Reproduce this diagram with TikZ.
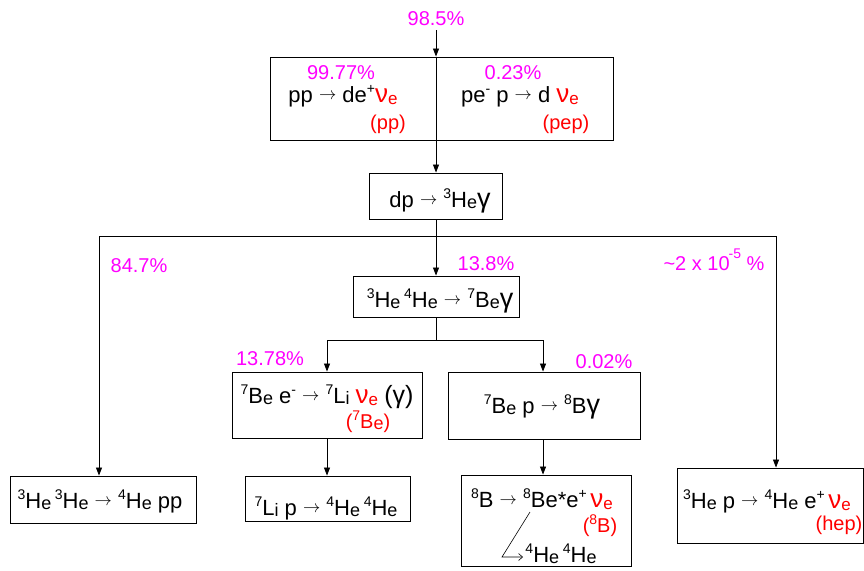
\documentclass[tikz,border=0pt]{standalone}
\usepackage{fontspec}
\setmainfont{Liberation Sans}
\usetikzlibrary{arrows.meta}
\definecolor{pct}{RGB}{255,0,255}
\definecolor{nured}{RGB}{255,0,0}
\newcommand\up[1]{\raisebox{0.38em}{\fontsize{14}{14}\selectfont #1}}
\newcommand\el[2]{#1{\fontsize{18}{18}\selectfont\raisebox{-0.08em}{#2}}}
\newcommand\nue{{\color{nured}{\fontsize{26}{26}\selectfont ν}\raisebox{-0.12em}{\fontsize{17}{17}\selectfont e}}}
\newcommand\arw{\raisebox{3pt}{\fontsize{16}{16}\selectfont$\rightarrow$}}
\newcommand\gam{{\fontsize{27}{27}\selectfont γ}}
\begin{document}
\begin{tikzpicture}[x=1pt,y=-1pt,
  boxnode/.style={draw, line width=0.9pt, inner sep=0pt},
  txt/.style={anchor=base, inner sep=0pt, font=\fontsize{22}{24}\selectfont},
  pctlab/.style={anchor=base, inner sep=0pt, text=pct, font=\fontsize{20}{24}\selectfont},
  redlab/.style={anchor=base, inner sep=0pt, text=nured, font=\fontsize{20}{22}\selectfont},
  conn/.style={line width=0.8pt},
  arr/.style={line width=0.8pt, -{Triangle[length=8pt,width=6pt]}}]
\useasboundingbox (0,0) rectangle (864,570);

% boxes
\node[boxnode, minimum width=343pt, minimum height=83pt] (top) at (441.5,98.5) {};
\node[boxnode, minimum width=133pt, minimum height=46pt] (dp) at (435.5,196) {};
\node[boxnode, minimum width=166pt, minimum height=41pt] (he34) at (436,296.5) {};
\node[boxnode, minimum width=190pt, minimum height=66pt] (be7e) at (327,405) {};
\node[boxnode, minimum width=192pt, minimum height=67pt] (be7p) at (544,405.5) {};
\node[boxnode, minimum width=165pt, minimum height=45pt] (li7) at (327.5,498.5) {};
\node[boxnode, minimum width=170pt, minimum height=91pt] (b8) at (546,520.5) {};
\node[boxnode, minimum width=186pt, minimum height=47pt] (he33) at (103,499.5) {};
\node[boxnode, minimum width=186pt, minimum height=75pt] (hep) at (770,505.5) {};

% texts
\node[pctlab] (p985) at (436,25) {98.5\%};
\node[pctlab] (p9977) at (341,79) {99.77\%};
\node[txt] (tpp) at (343,102) {pp \arw{} de\up{+}\nue};
\node[redlab] (lpp) at (388,129) {(pp)};
\node[pctlab] (p023) at (513,79) {0.23\%};
\node[txt] (tpep) at (520,102) {pe\up{-} p \arw{} d \nue};
\node[redlab] (lpep) at (566,129) {(pep)};
\node[txt] (tdp) at (440,207) {dp \arw{} \up{3}\el{H}{e}\gam};
\node[pctlab] (p138) at (486,270) {13.8\%};
\node[pctlab] (p847) at (139,272) {84.7\%};
\node[pctlab] (phep) at (714,270) {\textasciitilde2 x 10\kern-1pt\raisebox{0.2em}{\up{-5}} \%};
\node[txt] (the34) at (440,307) {\up{3}\el{H}{e}\,\up{4}\el{H}{e} \arw{} \up{7}\el{B}{e}\gam};
\node[pctlab] (p1378) at (270,365) {13.78\%};
\node[txt] (tbe7e) at (327,403) {\up{7}\el{B}{e} e\up{-} \arw{} \up{7}\el{L}{i} \nue{} {\fontsize{25}{25}\selectfont(γ)}};
\node[redlab] (lbe7) at (368,428) {(\up{7}\el{B}{e})};
\node[pctlab] (p002) at (604,368) {0.02\%};
\node[txt] (tbe7p) at (542,413) {\up{7}\el{B}{e} p \arw{} \up{8}B\gam};
\node[txt] (tli7) at (326,515) {\up{7}\el{L}{i} p \arw{} \up{4}\el{H}{e}\,\up{4}\el{H}{e}};
\node[txt] (tb8) at (542,507) {\up{8}B \arw{} \up{8}Be*e\up{+}\,\nue};
\node[redlab] (lb8) at (600,532) {(\up{8}B)};
\node[txt] (thehe) at (561,562) {\up{4}\el{H}{e}\,\up{4}\el{H}{e}};
\node[txt] (the33) at (100,508) {\up{3}\el{H}{e}\,\up{3}\el{H}{e} \arw{} \up{4}\el{H}{e} pp};
\node[txt] (thep) at (767,508) {\up{3}\el{H}{e} p \arw{} \up{4}\el{H}{e} e\up{+}\,\nue};
\node[redlab] (lhep) at (839,530) {(hep)};

% connectors
\coordinate (src) at (436,30);
\draw[arr] (src) -- (top.north -| src);
\draw[conn] (top.north -| src) -- (top.south -| src);
\draw[arr] (top.south -| src) -- (dp.north -| src);
\coordinate (sl) at (99,236);
\coordinate (sr) at (776,236);
\draw[conn] (sl) -- (sr);
\draw[arr] (sl) -- (sl |- he33.north);
\draw[arr] (sr) -- (sr |- hep.north);
\draw[arr] (dp.south -| src) -- (he34.north -| src);
\coordinate (s2l) at (327,340);
\coordinate (s2r) at (543,340);
\draw[conn] (he34.south -| src) -- (src |- s2l);
\draw[conn] (s2l) -- (s2r);
\draw[arr] (s2l) -- (s2l |- be7e.north);
\draw[arr] (s2r) -- (s2r |- be7p.north);
\draw[arr] (be7e.south -| s2l) -- (li7.north -| s2l);
\draw[arr] (be7p.south -| s2r) -- (b8.north -| s2r);
\coordinate (d1) at (530,512);
\coordinate (d2) at (502,557);
\coordinate (d3) at (523,557);
\draw[line width=0.6pt, -{Straight Barb[length=4pt,width=7pt]}] (d1) -- (d2) -- (d3);
\end{tikzpicture}
\end{document}
